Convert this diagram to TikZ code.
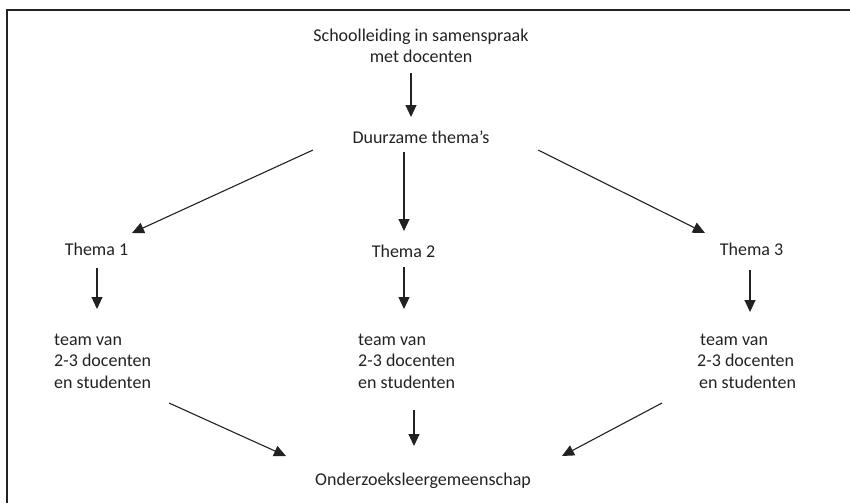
\documentclass[tikz,border=0pt]{standalone}
\usepackage{fontspec}
\setmainfont{Carlito}
\usetikzlibrary{arrows.meta}
\definecolor{ink}{HTML}{222222}
\begin{document}
\begin{tikzpicture}[x=1pt,y=-1pt,
  lbl/.style={inner sep=0pt,text=ink,font=\fontsize{18}{21.5}\selectfont,align=center},
  lblleft/.style={lbl,align=left,anchor=west},
  arr/.style={draw=ink,line width=1.1pt,-{Triangle[length=12pt,width=11pt]}},
  frameline/.style={draw=ink,line width=1.2pt}]
\useasboundingbox (0,0) rectangle (850,503);
% frame
\coordinate (fb) at (7,503);
\coordinate (fc) at (7,10);
\coordinate (fr) at (850,10);
\draw[frameline] (fb) -- (fc) -- (fr);
% nodes
\node[lbl] (top) at (421,46) {Schoolleiding in samenspraak\\met docenten};
\node[lbl] (duur) at (421,137) {Duurzame thema’s};
\node[lbl] (t1) at (96.5,249) {Thema 1};
\node[lbl] (t2) at (403.5,251) {Thema 2};
\node[lbl] (t3) at (751.5,249) {Thema 3};
\node[lblleft] (team1) at (54,361) {team van\\2-3 docenten\\en studenten};
\node[lblleft] (team2) at (358,361) {team van\\2-3 docenten\\en studenten};
\node[lblleft] (team3) at (697,361) {\hspace*{3pt}team van\\2-3 docenten\\\hspace*{2pt}en studenten};
\node[lbl] (ols) at (423,481) {Onderzoeksleergemeenschap};
% connector end points
\coordinate (a0s) at (411,73);   \coordinate (a0e) at (411,117);
\coordinate (a1s) at (313,150);  \coordinate (a1e) at (132,233);
\coordinate (a2s) at (404,152);  \coordinate (a2e) at (404,231);
\coordinate (a3s) at (538,150);  \coordinate (a3e) at (705,233);
\coordinate (b1s) at (97,268);   \coordinate (b1e) at (97,309);
\coordinate (b2s) at (404,267);  \coordinate (b2e) at (404,309);
\coordinate (b3s) at (750,270);  \coordinate (b3e) at (750,312);
\coordinate (c1s) at (169,403);  \coordinate (c1e) at (286,456);
\coordinate (c2s) at (414,410);  \coordinate (c2e) at (414,446);
\coordinate (c3s) at (662,403);  \coordinate (c3e) at (562,456);
% connectors
\draw[arr] (a0s) -- (a0e);
\draw[arr] (a1s) -- (a1e);
\draw[arr] (a2s) -- (a2e);
\draw[arr] (a3s) -- (a3e);
\draw[arr] (b1s) -- (b1e);
\draw[arr] (b2s) -- (b2e);
\draw[arr] (b3s) -- (b3e);
\draw[arr] (c1s) -- (c1e);
\draw[arr] (c2s) -- (c2e);
\draw[arr] (c3s) -- (c3e);
\end{tikzpicture}
\end{document}
